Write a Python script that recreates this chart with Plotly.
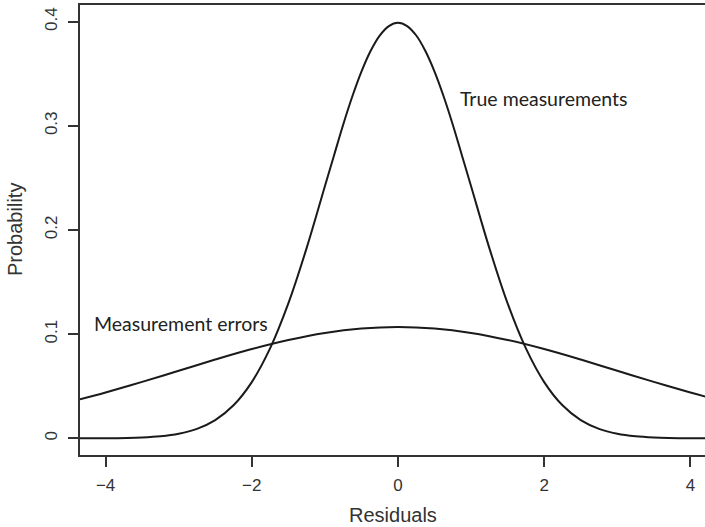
import plotly.graph_objects as go

# Values
x_true = [-4.35, -4.0, -3.5, -3.25, -3.0, -2.75, -2.5, -2.25, -2.0, -1.75, -1.5, -1.25, -1.0, -0.875, -0.75, -0.625,
          -0.5, -0.375, -0.25, -0.125, 0.0, 0.125, 0.25, 0.375, 0.5, 0.625, 0.75, 0.875, 1.0, 1.25, 1.5, 1.75,
          2.0, 2.25, 2.5, 2.75, 3.0, 3.25, 3.5, 4.0, 4.35]
y_true = [0.0000, 0.0001, 0.0009, 0.0020, 0.0044, 0.0091, 0.0175, 0.0317, 0.0540, 0.0863, 0.1295, 0.1826, 0.2420, 0.2716, 0.3011, 0.3282,
          0.3521, 0.3719, 0.3867, 0.3958, 0.3989, 0.3958, 0.3867, 0.3719, 0.3521, 0.3282, 0.3011, 0.2716, 0.2420, 0.1826, 0.1295, 0.0863,
          0.0540, 0.0317, 0.0175, 0.0091, 0.0044, 0.0020, 0.0009, 0.0001, 0.0000]

x_err = [-4.35, -4.0, -3.5, -3.0, -2.5, -2.0, -1.5, -1.0, -0.5, 0.0, 0.5, 1.0, 1.5, 2.0, 2.5, 3.0, 3.5, 4.0, 4.35]
y_err = [0.0374, 0.0440, 0.0542, 0.0649, 0.0756, 0.0857, 0.0944, 0.1012, 0.1055, 0.1070,
         0.1055, 0.1012, 0.0944, 0.0857, 0.0756, 0.0649, 0.0542, 0.0440, 0.0374]

x_ticks = [-4, -2, 0, 2, 4]
y_ticks = [0, 0.1, 0.2, 0.3, 0.4]
y_tick_labels = ["0", "0.1", "0.2", "0.3", "0.4"]

labels = [("True measurements", 0.82, 0.326), ("Measurement errors", -4.18, 0.110)]

fig = go.Figure()
fig.add_trace(go.Scatter(x=x_true, y=y_true, mode="lines", line=dict(color="#1a1a1a", width=2, shape="spline"),
                         showlegend=False, hoverinfo="skip"))
fig.add_trace(go.Scatter(x=x_err, y=y_err, mode="lines", line=dict(color="#1a1a1a", width=2, shape="spline"),
                         showlegend=False, hoverinfo="skip"))

for text, lx, ly in labels:
    fig.add_annotation(x=lx, y=ly, xref="x", yref="y", text=text, showarrow=False, xanchor="left", yanchor="middle",
                       font=dict(family="Lato", size=19.5, color="#222"))

tick_font = dict(family="Liberation Sans, Arial", size=17, color="#333")
fig.update_layout(
    width=705, height=527,
    margin=dict(l=80, r=0, t=5, b=72),
    plot_bgcolor="white", paper_bgcolor="white",
    xaxis=dict(range=[-4.35, 4.2], tickvals=x_ticks, ticktext=[str(v).replace("-", "\u2212") for v in x_ticks],
               showgrid=False, zeroline=False, showline=True, linecolor="#333", linewidth=1.5, mirror=True,
               ticks="outside", ticklen=10, tickcolor="#333", tickwidth=1.5, tickfont=tick_font, ticklabelstandoff=4),
    yaxis=dict(range=[-0.016, 0.416], tickvals=y_ticks, ticktext=y_tick_labels, tickangle=-90,
               showgrid=False, zeroline=False, showline=True, linecolor="#333", linewidth=1.5, mirror=False,
               ticks="outside", ticklen=10, tickcolor="#333", tickwidth=1.5, tickfont=tick_font, ticklabelstandoff=4),
)
fig.add_annotation(x=0.5, y=0, xref="paper", yref="paper", text="Residuals", showarrow=False,
                   yshift=-60, yanchor="middle", font=dict(family="Liberation Sans, Arial", size=20, color="#333"))
fig.add_annotation(x=0, y=0.5, xref="paper", yref="paper", text="Probability", showarrow=False, textangle=-90,
                   xshift=-65, xanchor="center", font=dict(family="Liberation Sans, Arial", size=20, color="#333"))

fig.write_html("out.html")
